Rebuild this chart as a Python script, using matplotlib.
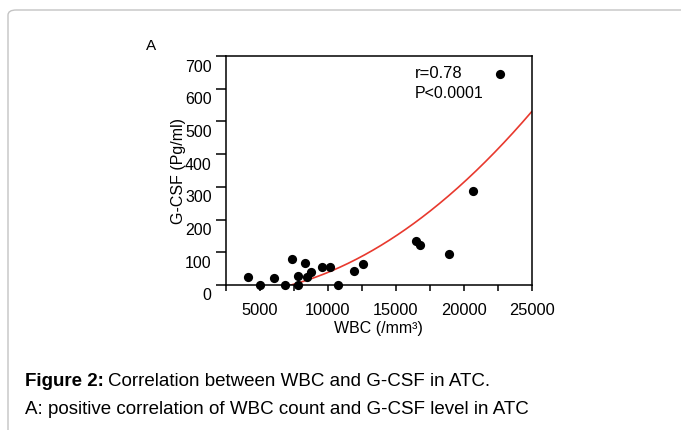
import numpy as np
import matplotlib
matplotlib.use("Agg")
import matplotlib.pyplot as plt
from matplotlib.patches import FancyBboxPatch
from matplotlib.transforms import ScaledTranslation

plt.rcParams['font.family'] = ['Liberation Sans', 'DejaVu Sans']

# WBC (/mm3) and G-CSF (Pg/ml)
wbc = [4140, 5000, 6100, 6890, 7380, 7850, 7850, 8360, 8510, 8800,
       9590, 10150, 10740, 11950, 12580, 16530, 16830, 18940, 20710, 22720]
gcsf = [25, 0, 20, 0, 81, 29, 0, 68, 25, 40,
        56, 54, 0, 44, 63, 134, 122, 94, 287, 646]

# fitted curve, y = a*u^2 + b*u + c with u = WBC / 1000
fit_a, fit_b, fit_c = 1.05, -4.0, -27.0

xticks = [2500, 5000, 7500, 10000, 12500, 15000, 17500, 20000, 22500, 25000]
xticklabels = ["", "5000", "", "10000", "", "15000", "", "20000", "", "25000"]
yticks = [0, 100, 200, 300, 400, 500, 600, 700]

fig = plt.figure(figsize=(6.81, 4.30), dpi=100)

# rounded frame around the figure panel
frame = FancyBboxPatch((8 / 681, -0.2), 1.2, 1.2 - 10 / 430,
                       boxstyle="round,pad=0,rounding_size=0.012",
                       transform=fig.transFigure, fill=False,
                       edgecolor="#c4c4c4", linewidth=1.0)
fig.patches.append(frame)

ax = fig.add_axes([225.5 / 681, 1 - 285 / 430, (531.5 - 225.5) / 681, (285 - 56) / 430])

u = np.linspace(2.5, 25, 300)
ax.plot(u * 1000, fit_a * u ** 2 + fit_b * u + fit_c, color="#e8392e", lw=1.2, zorder=2)
ax.scatter(wbc, gcsf, s=44, color="black", zorder=3, clip_on=False, linewidths=0)

ax.set_xlim(2500, 25000)
ax.set_ylim(0, 700)
ax.set_xticks(xticks)
ax.set_xticklabels(xticklabels)
ax.set_yticks(yticks)
for sp in ax.spines.values():
    sp.set_linewidth(1.1)
ax.tick_params(axis="x", direction="out", length=4, width=1.1, pad=9, labelsize=11.8)
ax.tick_params(axis="y", direction="out", length=7, width=1.1, pad=3, labelsize=11.5)

# y tick labels sit a little below their ticks in the original
offset = ScaledTranslation(0, -9.5 / 100, fig.dpi_scale_trans)
for lab in ax.get_yticklabels():
    lab.set_transform(lab.get_transform() + offset)

ax.set_xlabel("WBC (/mm³)", fontsize=11.5, labelpad=2)
ax.set_ylabel("G-CSF (Pg/ml)", fontsize=11.5, labelpad=-1)

ax.text(16400, 645, "r=0.78", fontsize=12, va="center", ha="left")
ax.text(16400, 584, "P<0.0001", fontsize=11.5, va="center", ha="left")

fig.text(146 / 681, 1 - 46 / 430, "A", fontsize=11, va="center", ha="left")

t1 = fig.text(25 / 681, 1 - 381 / 430, "Figure 2:", fontsize=13.5, fontweight="bold",
              va="center", ha="left")
fig.canvas.draw()
bb = t1.get_window_extent()
fig.text(bb.x1 / 681 + 4 / 681, 1 - 381 / 430, "Correlation between WBC and G-CSF in ATC.",
         fontsize=13.5, va="center", ha="left")
fig.text(25 / 681, 1 - 410 / 430, "A: positive correlation of WBC count and G-CSF level in ATC",
         fontsize=13.5, va="center", ha="left")

fig.savefig("out.png", dpi=100)
